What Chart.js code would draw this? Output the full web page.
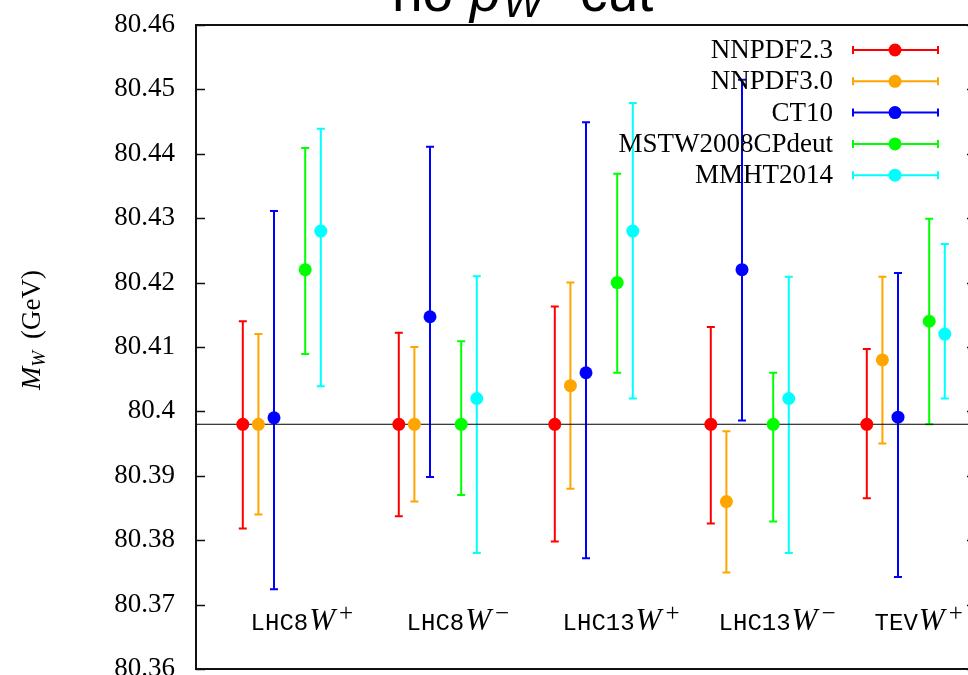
<!DOCTYPE html>
<html>
<head>
<meta charset="utf-8">
<script src="https://cdn.jsdelivr.net/npm/chart.js@4/dist/chart.umd.min.js"></script>
<style>
html, body { margin: 0; padding: 0; background: #fff; overflow: hidden; width: 968px; height: 675px; }
#wrap { position: absolute; left: 0; top: -40px; width: 1000px; height: 748px; }
</style>
</head>
<body>
<div id="wrap"><canvas id="mwChart" width="1000" height="748"></canvas></div>
<script>
// data
const processes = ['LHC8', 'LHC8', 'LHC13', 'LHC13', 'TEV'];
const charges = ['+', '\u2212', '+', '\u2212', '+'];
const pdfSets = ['NNPDF2.3', 'NNPDF3.0', 'CT10', 'MSTW2008CPdeut', 'MMHT2014'];
const refMass = 80.398;
const yTicks = { min: 80.36, max: 80.46, step: 0.01 };

const nnpdf23 = [80.398, 80.398, 80.398, 80.398, 80.398];
const nnpdf23Hi = [80.414, 80.4122, 80.4163, 80.4131, 80.4097];
const nnpdf23Lo = [80.3818, 80.3837, 80.3798, 80.3826, 80.3865];

const nnpdf30 = [80.398, 80.398, 80.404, 80.386, 80.408];
const nnpdf30Hi = [80.412, 80.410, 80.420, 80.3969, 80.4209];
const nnpdf30Lo = [80.384, 80.386, 80.388, 80.375, 80.395];

const ct10 = [80.399, 80.4147, 80.406, 80.422, 80.3991];
const ct10Hi = [80.4311, 80.4411, 80.4449, 80.4515, 80.4215];
const ct10Lo = [80.3724, 80.3898, 80.3772, 80.3986, 80.3743];

const mstw = [80.422, 80.398, 80.420, 80.398, 80.414];
const mstwHi = [80.4409, 80.4109, 80.4369, 80.406, 80.4299];
const mstwLo = [80.4089, 80.387, 80.406, 80.3829, 80.398];

const mmht = [80.428, 80.402, 80.428, 80.402, 80.412];
const mmhtHi = [80.4439, 80.421, 80.4479, 80.4209, 80.426];
const mmhtLo = [80.4039, 80.378, 80.402, 80.378, 80.402];

// styling
const colors = ['#ff0000', '#ffa500', '#0000ff', '#00ff00', '#00ffff'];
const offsets = [-0.25, -0.15, -0.05, 0.15, 0.25];
const serif = '"Liberation Serif", "DejaVu Serif", serif';

const central = [nnpdf23, nnpdf30, ct10, mstw, mmht];
const upper = [nnpdf23Hi, nnpdf30Hi, ct10Hi, mstwHi, mmhtHi];
const lower = [nnpdf23Lo, nnpdf30Lo, ct10Lo, mstwLo, mmhtLo];

const datasets = pdfSets.map((name, s) => ({
  label: name,
  data: central[s].map((v, g) => ({ x: g + 1 + offsets[s], y: v, hi: upper[s][g], lo: lower[s][g] })),
  backgroundColor: colors[s],
  borderColor: colors[s],
  pointRadius: 6.5,
  pointBorderWidth: 0,
  showLine: false,
  errorBars: true,
  order: 1
}));

datasets.push({
  type: 'line',
  label: 'ref',
  data: [{ x: 0.45, y: refMass }, { x: 5.45, y: refMass }],
  borderColor: '#000',
  borderWidth: 1,
  pointRadius: 0,
  order: 5
});

function drawRuns(ctx, runs, x, y, align) {
  let total = 0;
  runs.forEach(r => { ctx.font = r.font; total += ctx.measureText(r.text).width + (r.gap || 0); });
  let cx = align === 'center' ? x - total / 2 : (align === 'right' ? x - total : x);
  ctx.textAlign = 'left';
  runs.forEach(r => {
    ctx.font = r.font;
    cx += r.gap || 0;
    if (r.at !== undefined) cx = r.at;
    ctx.fillText(r.text, cx, y + (r.dy || 0));
    cx += ctx.measureText(r.text).width;
  });
}

const errorBarPlugin = {
  id: 'errorBars',
  beforeDatasetsDraw(chart) {
    const { ctx, scales: { x, y } } = chart;
    ctx.save();
    ctx.lineWidth = 2;
    chart.data.datasets.forEach(ds => {
      if (!ds.errorBars) return;
      ctx.strokeStyle = ds.borderColor;
      ds.data.forEach(p => {
        const px = x.getPixelForValue(p.x);
        const top = y.getPixelForValue(p.hi);
        const bot = y.getPixelForValue(p.lo);
        ctx.beginPath();
        ctx.moveTo(px, top); ctx.lineTo(px, bot);
        ctx.moveTo(px - 4, top); ctx.lineTo(px + 4, top);
        ctx.moveTo(px - 4, bot); ctx.lineTo(px + 4, bot);
        ctx.stroke();
      });
    });
    ctx.restore();
  }
};

const decorPlugin = {
  id: 'decor',
  afterDraw(chart) {
    const { ctx, chartArea: a, scales: { x, y } } = chart;
    ctx.save();
    // frame and inward ticks
    ctx.strokeStyle = '#111';
    ctx.lineWidth = 2;
    ctx.strokeRect(a.left, a.top, a.right - a.left, a.bottom - a.top);
    ctx.lineWidth = 1.5;
    for (let v = yTicks.min; v <= yTicks.max + 1e-9; v += yTicks.step) {
      const py = Math.round(y.getPixelForValue(v)) + 0.5;
      ctx.beginPath();
      ctx.moveTo(a.left, py); ctx.lineTo(a.left + 9, py);
      ctx.moveTo(a.right, py); ctx.lineTo(a.right - 9, py);
      ctx.stroke();
    }

    ctx.fillStyle = '#000';
    ctx.textBaseline = 'alphabetic';
    // process labels inside the plot
    processes.forEach((p, g) => {
      const lx = x.getPixelForValue(g + 1 - 0.2);
      const ly = y.getPixelForValue(80.3661);
      drawRuns(ctx, [
        { text: p, font: '24px "Liberation Mono", "DejaVu Sans Mono", monospace' },
        { text: 'W', font: 'italic 31px ' + serif, gap: 1 },
        { text: charges[g], font: '25px ' + serif, dy: -9, gap: 4 }
      ], lx, ly, 'left');
    });

    // y axis title
    ctx.save();
    ctx.translate(40, 330 + 40);
    ctx.rotate(-Math.PI / 2);
    drawRuns(ctx, [
      { text: 'M', font: 'italic 28px ' + serif },
      { text: 'W', font: 'italic 19px ' + serif, dy: 5 },
      { text: '(GeV)', font: '27px ' + serif, gap: 12 }
    ], 0, 0, 'center');
    ctx.restore();

    // title (cut off at the top)
    const sans = '"Liberation Sans", Arial, sans-serif';
    drawRuns(ctx, [
      { text: 'no', font: '55px ' + sans, at: 392 },
      { text: 'p', font: 'italic 55px ' + sans, at: 470 },
      { text: 'W', font: 'italic 42px ' + sans, dy: 6, at: 503 },
      { text: 'cut', font: '55px ' + sans, at: 580 }
    ], 392, 51, 'left');

    // legend
    ctx.textBaseline = 'middle';
    pdfSets.forEach((name, s) => {
      const ry = 50 + 40 + s * 31.3;
      ctx.fillStyle = '#000';
      ctx.font = '27px ' + serif;
      ctx.textAlign = 'right';
      ctx.fillText(name, 833, ry + 1);
      ctx.strokeStyle = colors[s];
      ctx.lineWidth = 2;
      ctx.beginPath();
      ctx.moveTo(853, ry); ctx.lineTo(938, ry);
      ctx.moveTo(853, ry - 4); ctx.lineTo(853, ry + 4);
      ctx.moveTo(938, ry - 4); ctx.lineTo(938, ry + 4);
      ctx.stroke();
      ctx.fillStyle = colors[s];
      ctx.beginPath();
      ctx.arc(895, ry, 6.5, 0, Math.PI * 2);
      ctx.fill();
    });
    ctx.restore();
  }
};

const ctx = document.getElementById('mwChart').getContext('2d');
new Chart(ctx, {
  type: 'scatter',
  data: { datasets: datasets },
  options: {
    responsive: false,
    animation: false,
    layout: { padding: { top: 65, right: 24, bottom: 39, left: 0 } },
    plugins: {
      legend: { display: false },
      tooltip: { enabled: false },
      title: { display: false }
    },
    scales: {
      x: { type: 'linear', min: 0.45, max: 5.45, display: false },
      y: {
        min: yTicks.min,
        max: yTicks.max,
        afterFit: s => { s.width = 196; },
        grid: { display: false, drawTicks: false },
        border: { display: false },
        ticks: {
          stepSize: yTicks.step,
          padding: 21,
          color: '#000',
          font: { family: 'Liberation Serif', size: 27 },
          callback: v => String(+v.toFixed(2))
        }
      }
    }
  },
  plugins: [errorBarPlugin, decorPlugin]
});
</script>
</body>
</html>
